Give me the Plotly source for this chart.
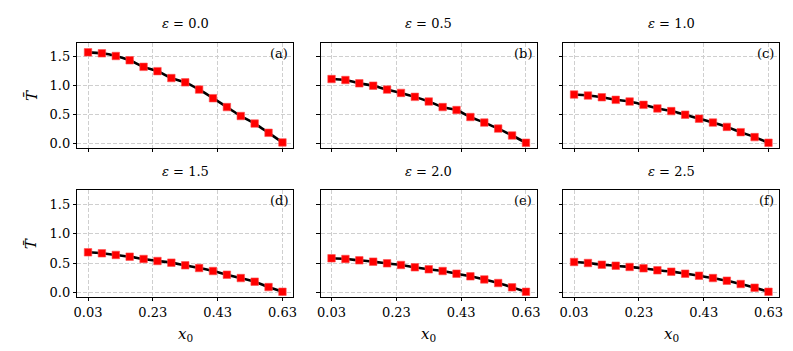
import numpy as np
import plotly.graph_objects as go

x0 = [0.03 + i * 0.6 / 14 for i in range(15)]
eps_labels = ["0.0", "0.5", "1.0", "1.5", "2.0", "2.5"]
panel_tags = ["(a)", "(b)", "(c)", "(d)", "(e)", "(f)"]
T_a = [1.574, 1.557, 1.511, 1.437, 1.324, 1.25, 1.131, 1.057, 0.932, 0.784, 0.631, 0.477, 0.347, 0.188, 0.023]
T_b = [1.114, 1.097, 1.04, 1.0, 0.932, 0.875, 0.807, 0.727, 0.631, 0.58, 0.46, 0.364, 0.261, 0.142, 0.017]
T_c = [0.847, 0.83, 0.80, 0.756, 0.727, 0.67, 0.608, 0.562, 0.5, 0.432, 0.364, 0.29, 0.199, 0.114, 0.017]
T_d = [0.684, 0.667, 0.639, 0.61, 0.57, 0.536, 0.508, 0.462, 0.416, 0.365, 0.302, 0.245, 0.183, 0.091, 0.011]
T_e = [0.582, 0.570, 0.547, 0.525, 0.496, 0.468, 0.428, 0.394, 0.365, 0.32, 0.274, 0.222, 0.16, 0.086, 0.011]
T_f = [0.519, 0.502, 0.473, 0.456, 0.434, 0.411, 0.377, 0.354, 0.32, 0.285, 0.245, 0.2, 0.143, 0.08, 0.011]
series = [T_a, T_b, T_c, T_d, T_e, T_f]
xticks = [0.03, 0.23, 0.43, 0.63]
yticks = [0.0, 0.5, 1.0, 1.5]

W, H = 793, 351
FONT = "DejaVu Serif"
colx = [(66, 284), (312, 530), (557, 775)]
rowy = [(35, 141), (184, 291)]

fig = go.Figure()
ann = []
for k, T in enumerate(series):
    r, c = divmod(k, 3)
    idx = "" if k == 0 else str(k + 1)
    xa, ya = "x" + idx, "y" + idx
    fig.add_trace(go.Scatter(x=x0, y=T, mode="lines", line=dict(color="black", width=2.6, shape="spline"),
                             xaxis=xa, yaxis=ya, showlegend=False, hoverinfo="skip"))
    fig.add_trace(go.Scatter(x=x0, y=T, mode="markers", marker=dict(symbol="square", size=7.5, color="#ff0000",
                             line=dict(width=0.6, color="#ff4d4d")),
                             xaxis=xa, yaxis=ya, showlegend=False))
    xd = [colx[c][0] / W, colx[c][1] / W]
    yd = [1 - rowy[r][1] / H, 1 - rowy[r][0] / H]
    common = dict(showline=True, linecolor="black", linewidth=1, mirror=True, ticks="outside", ticklen=3.5,
                  tickwidth=0.8, tickcolor="black", showgrid=True, gridcolor="#cfcfcf", griddash="4px,2px",
                  gridwidth=0.8, zeroline=False, tickfont=dict(family=FONT, size=13, color="black"))
    fig.layout["xaxis" + idx] = dict(domain=xd, range=[-0.003, 0.663], tickvals=xticks,
                                     ticktext=[f"{v:.2f}" for v in xticks], showticklabels=(r == 1),
                                     anchor=ya, **common)
    fig.layout["yaxis" + idx] = dict(domain=yd, range=[-0.07, 1.74], tickvals=yticks,
                                     ticktext=[f"{v:.1f}" for v in yticks], showticklabels=(c == 0),
                                     anchor=xa, **common)
    ann.append(dict(text="<i>ε</i> = " + eps_labels[k], x=(xd[0] + xd[1]) / 2, y=yd[1] + 19 / H,
                    xref="paper", yref="paper", showarrow=False, xanchor="center", yanchor="middle",
                    font=dict(family=FONT, size=13, color="black")))
    ann.append(dict(text=panel_tags[k], x=xd[1] - 3 / W, y=yd[1] - 1 / H, xref="paper", yref="paper",
                    showarrow=False, xanchor="right", yanchor="top",
                    font=dict(family=FONT, size=13, color="black")))
    if c == 0:
        ann.append(dict(text="<i>T\u0304</i>", x=20 / W, y=(yd[0] + yd[1]) / 2, xref="paper", yref="paper",
                        showarrow=False, textangle=-90, xanchor="center", yanchor="middle",
                        font=dict(family=FONT, size=15, color="black")))
    if r == 1:
        ann.append(dict(text="<i>x</i><sub>0</sub>", x=(xd[0] + xd[1]) / 2, y=1 - 329 / H, xref="paper",
                        yref="paper", showarrow=False, xanchor="center", yanchor="middle",
                        font=dict(family=FONT, size=15, color="black")))

fig.update_layout(width=W, height=H, margin=dict(l=0, r=0, t=0, b=0), plot_bgcolor="white",
                  paper_bgcolor="white", annotations=ann)
fig.write_html("out.html")
